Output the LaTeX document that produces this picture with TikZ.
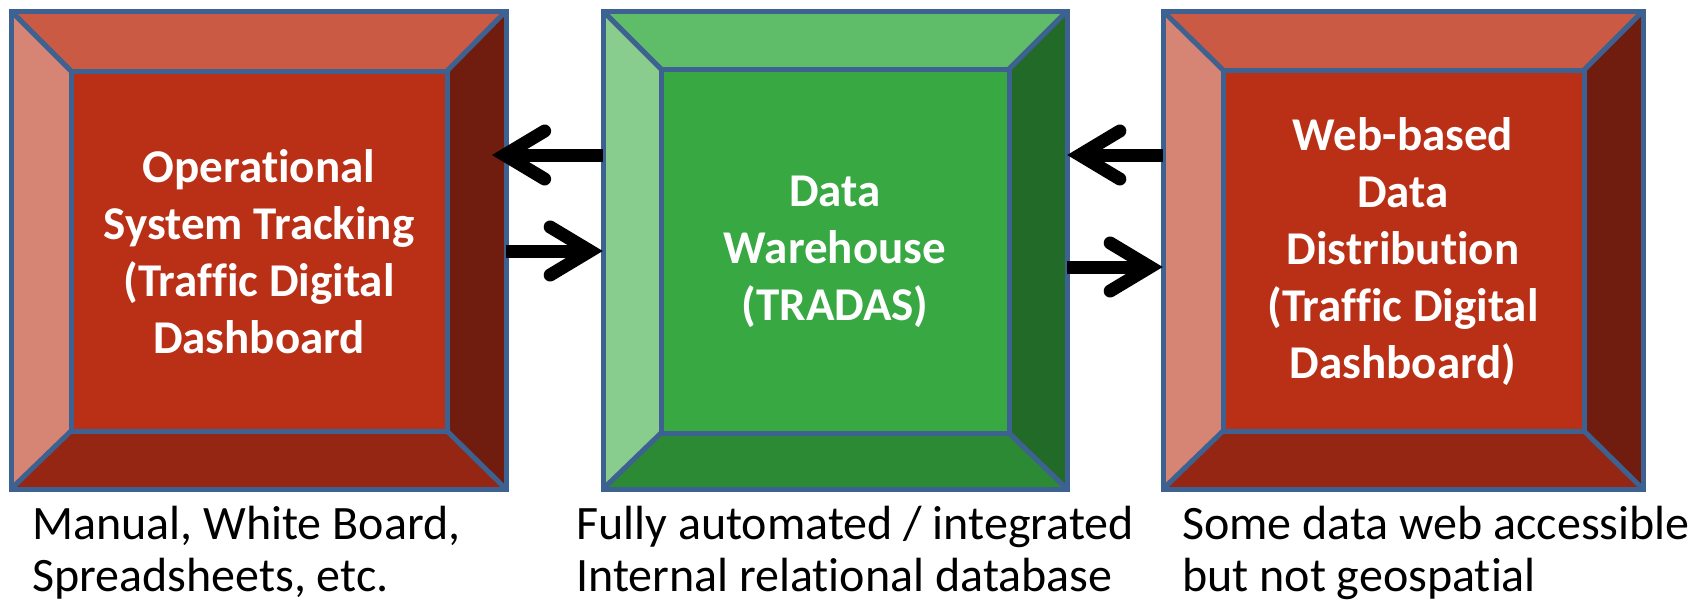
\documentclass[tikz,border=0pt]{standalone}
\usepackage{fontspec}
\setmainfont{Carlito}[Ligatures=NoCommon]
\usetikzlibrary{arrows.meta,calc}
\definecolor{edgeblue}{HTML}{3D6190}
\definecolor{Rtop}{HTML}{CB5A45}
\definecolor{Rleft}{HTML}{D68474}
\definecolor{Rin}{HTML}{B93017}
\definecolor{Rright}{HTML}{701C0E}
\definecolor{Rbot}{HTML}{952614}
\definecolor{Gtop}{HTML}{5FBD6A}
\definecolor{Gleft}{HTML}{88CD8E}
\definecolor{Gin}{HTML}{38A843}
\definecolor{Gright}{HTML}{226A27}
\definecolor{Gbot}{HTML}{2C8A35}
\tikzset{
  edge/.style={draw=edgeblue, line width=5pt, line join=miter},
  frame/.style={draw=none, inner sep=0pt, rectangle},
  title/.style={text=white, font=\fontsize{47}{57}\selectfont\bfseries, align=center, inner sep=0pt},
  desc/.style={text=black, font=\fontsize{48}{57}\selectfont, anchor=base west, inner sep=0pt},
  conn/.style={line width=13pt, -{Straight Barb[length=40pt,width=48pt,line cap=round,line join=miter]}},
}
\newcommand\bevbox[8]{%
  \coordinate (#1-a) at (#3,#4);
  \coordinate (#1-b) at (#5,#4);
  \coordinate (#1-c) at (#5,#6);
  \coordinate (#1-d) at (#3,#6);
  \coordinate (#1-ia) at (#7);
  \coordinate (#1-ic) at (#8);
  \coordinate (#1-ib) at (#1-ic |- #1-ia);
  \coordinate (#1-id) at (#1-ia |- #1-ic);
  \fill[#2top] (#1-a) -- (#1-b) -- (#1-ib) -- (#1-ia) -- cycle;
  \fill[#2right] (#1-b) -- (#1-c) -- (#1-ic) -- (#1-ib) -- cycle;
  \fill[#2bot] (#1-c) -- (#1-d) -- (#1-id) -- (#1-ic) -- cycle;
  \fill[#2left] (#1-d) -- (#1-a) -- (#1-ia) -- (#1-id) -- cycle;
  \fill[#2in] (#1-ia) rectangle (#1-ic);
  \draw[edge] (#1-a) -- (#1-ia) (#1-b) -- (#1-ib) (#1-c) -- (#1-ic) (#1-d) -- (#1-id);
  \draw[edge] (#1-ia) rectangle (#1-ic);
  \draw[edge] (#1-a) rectangle (#1-c);
  \node[frame, minimum width={(#5-#3)*1pt}, minimum height={(#6-#4)*1pt}] (#1) at ($(#1-a)!0.5!(#1-c)$) {};
}
\begin{document}
\begin{tikzpicture}[x=1pt,y=-1pt]
\useasboundingbox (0,0) rectangle (1707,603);
\fill[white] (0,0) rectangle (1707,603);

\bevbox{ops}{R}{11}{11}{506}{489}{71,71}{447,431}
\bevbox{dw}{G}{603}{11}{1067}{489}{661,69}{1009,433}
\bevbox{web}{R}{1163}{11}{1643}{489}{1223,70}{1584,431}

\node[title] (t1) at (259,252) {Operational\\System Tracking\\(Traffic Digital\\Dashboard};
\node[title] (t2) at (835,252) {Data\\Warehouse\\(TRADAS)};
\node[title] (t3) at (1403,252) {Web-based\\Data\\Distribution\\(Traffic Digital\\Dashboard)};

\coordinate (tipA) at (492,155);
\coordinate (yB) at (0,251);
\coordinate (yC) at (0,155);
\coordinate (yD) at (0,267);
\draw[conn] (dw.west |- tipA) -- (tipA);
\draw[conn] (ops.east |- yB) -- (dw.west |- yB);
\draw[conn] (web.west |- yC) -- (dw.east |- yC);
\draw[conn] (dw.east |- yD) -- (web.west |- yD);

\node[desc] (d1a) at (32,539) {Manual, White Board,};
\node[desc] (d1b) at (32,591) {Spreadsheets, etc.};
\node[desc] (d2a) at (576,539) {Fully automated / integrated};
\node[desc] (d2b) at (576,591) {Internal relational database};
\node[desc] (d3a) at (1182,539) {Some data web accessible};
\node[desc] (d3b) at (1182,591) {but not geospatial};
\end{tikzpicture}
\end{document}
